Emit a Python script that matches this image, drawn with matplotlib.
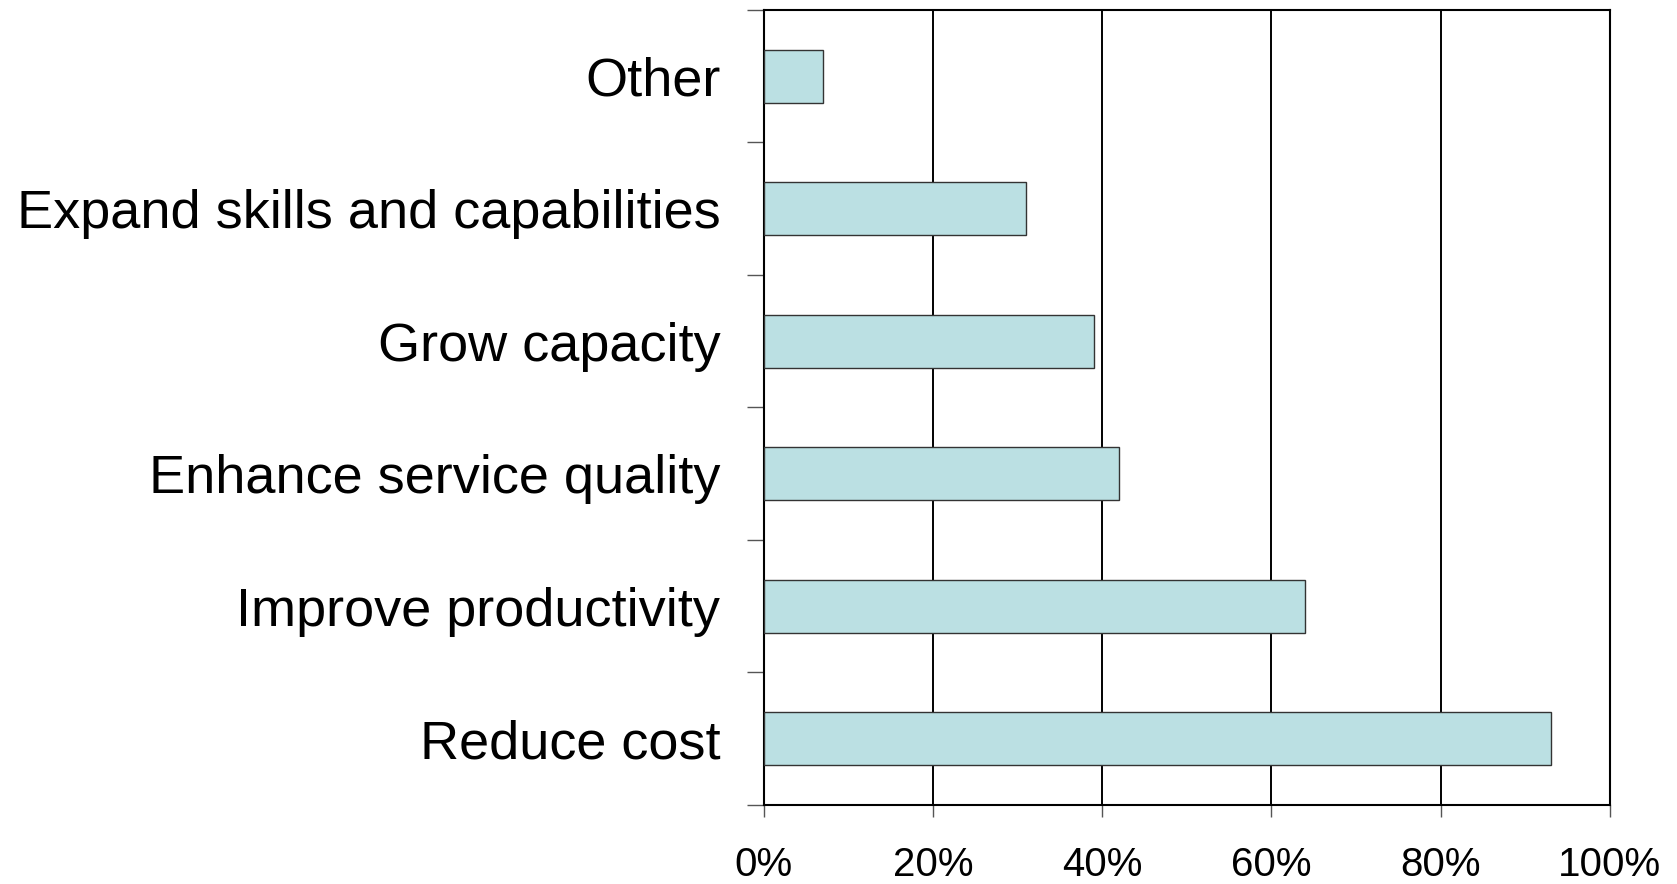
import matplotlib
matplotlib.use('Agg')

import numpy as np
import matplotlib.pyplot as plt
from matplotlib.ticker import MultipleLocator, FuncFormatter

# Categories from bottom to top
categories = ["Reduce cost", "Improve productivity", "Enhance service quality",
              "Grow capacity", "Expand skills and capabilities", "Other"]
shares = [0.93, 0.64, 0.42, 0.39, 0.31, 0.07]
x_ticks = [0.0, 0.2, 0.4, 0.6, 0.8, 1.0]

plt.rcParams['font.family'] = ['Liberation Sans', 'DejaVu Sans']

fig = plt.figure(figsize=(16.77, 8.84), dpi=100)
ax = fig.add_axes([0.4553, 0.0894, 0.5047, 0.8993])

y = np.arange(len(categories))
ax.barh(y, shares, height=0.4, color='#BBE0E3', edgecolor='#333333', linewidth=1.0, zorder=3)

ax.set_xlim(0, 1)
ax.set_ylim(-0.5, len(categories) - 0.5)
ax.set_xticks(x_ticks)
ax.xaxis.set_major_formatter(FuncFormatter(lambda v, p: f"{v * 100:.0f}%"))
ax.set_yticks(y)
ax.set_yticklabels(categories)
ax.yaxis.set_minor_locator(MultipleLocator(1, offset=0.5))

ax.set_axisbelow(True)
ax.grid(axis='x', color='black', linewidth=1.4)

for s in ax.spines.values():
    s.set_linewidth(1.5)
    s.set_color('black')

ax.tick_params(axis='y', which='major', length=0, pad=31, labelsize=39)
ax.tick_params(axis='y', which='minor', length=12, width=1.0, color='#555555', direction='out')
ax.tick_params(axis='x', which='major', length=8.5, width=1.0, color='#555555',
               direction='out', pad=21, labelsize=29)

plt.savefig("out.png", dpi=100)
